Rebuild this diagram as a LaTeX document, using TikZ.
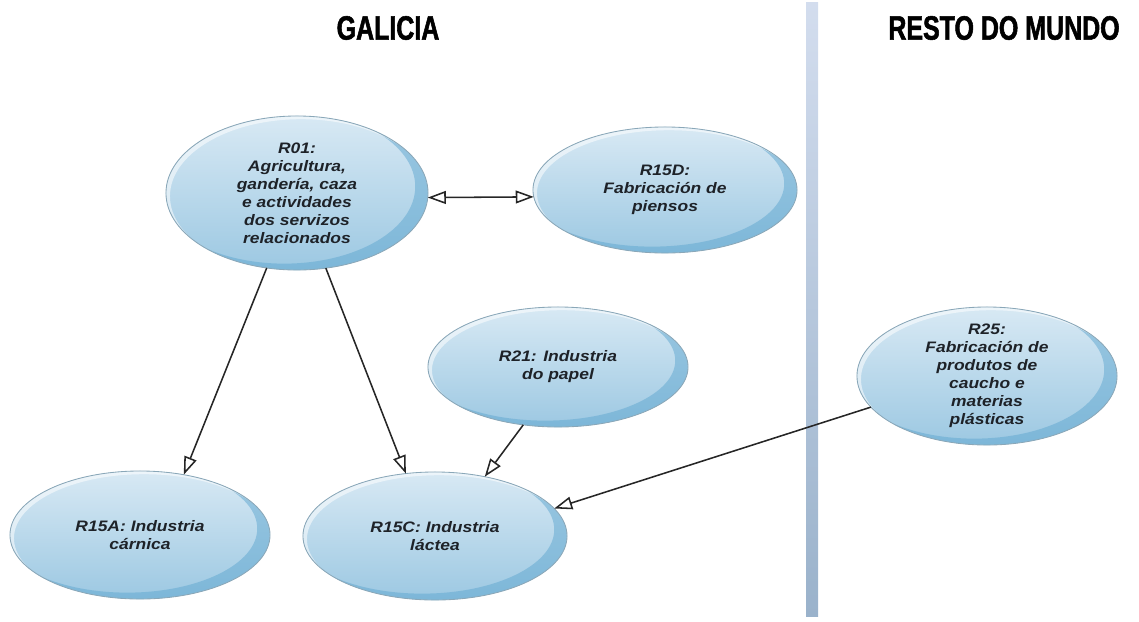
\documentclass[tikz,border=0pt]{standalone}
\usepackage{fontspec}
\setmainfont{Liberation Sans}
\newfontfamily\titulofont[FakeStretch=0.74, FakeBold=1.6]{Liberation Sans}
\newfontfamily\burbfont[FakeStretch=1.15]{Liberation Sans}
\usetikzlibrary{arrows.meta, shapes.geometric}

\definecolor{burbtop}{HTML}{D8E9F4}
\definecolor{burbbot}{HTML}{9CC8E2}
\definecolor{burbborde}{HTML}{8AA7B8}
\definecolor{burbsombra}{HTML}{5FA7D0}
\definecolor{textoescuro}{HTML}{1E2228}
\definecolor{barratop}{HTML}{D3DDEE}
\definecolor{barrabot}{HTML}{9AB2CB}

\tikzset{
  burbnodo/.style={ellipse, top color=burbtop, bottom color=burbbot, inner sep=0pt, outer sep=0pt},
  rotulo/.style={align=center, text=textoescuro, inner sep=0pt,
    font=\burbfont\bfseries\itshape\fontsize{10.8}{12.8}\selectfont},
  titulo/.style={font=\titulofont\bfseries\fontsize{24}{26}\selectfont},
  frecha/.style={draw=black!85, line width=1.1pt},
}

% burbulla: nome, centro, ancho, alto, texto
\newcommand{\burbulla}[5]{%
  \node[burbnodo, minimum width=#3, minimum height=#4] (#1) at (#2) {};
  \begin{scope}
    \clip (#1.center) ellipse [x radius=#3/2, y radius=#4/2];
    % sombra da dereita
    \fill[burbsombra, opacity=0.5, even odd rule]
      (#1.center) ellipse [x radius=#3/2, y radius=#4/2]
      ([xshift=-0.32cm, yshift=0.16cm]#1.center) ellipse [x radius=#3/2, y radius=#4/2];
    % brillo arriba á esquerda
    \fill[white, opacity=0.55, even odd rule]
      (#1.center) ellipse [x radius=#3/2, y radius=#4/2]
      ([xshift=0.1cm, yshift=-0.08cm]#1.center) ellipse [x radius=#3/2, y radius=#4/2];
  \end{scope}
  \draw[burbborde, line width=0.6pt] (#1.center) ellipse [x radius=#3/2, y radius=#4/2];
  \node[rotulo] (#1-txt) at (#1.center) {#5};
}

\begin{document}
\begin{tikzpicture}[x=0.025cm, y=-0.025cm,
    >={Triangle[length=0.45cm, width=0.32cm, fill=white]}]
  \useasboundingbox (0,0) rectangle (1139,621);

  % títulos
  \node[titulo] (galicia) at (388,28) {GALICIA};
  \node[titulo] (resto) at (1004,28) {RESTO DO MUNDO};

  % barra de separación
  \shade[top color=barratop, bottom color=barrabot] (806,2) rectangle (818,616);

  % ramas
  \burbulla{r01}{297,193}{6.55cm}{3.85cm}{R01:\\Agricultura,\\gandería, caza\\e actividades\\dos servizos\\relacionados}
  \burbulla{r15d}{665,190}{6.6cm}{3.15cm}{R15D:\\Fabricación de\\piensos}
  \burbulla{r21}{558,367}{6.5cm}{3.0cm}{R21: Industria\\do papel}
  \burbulla{r25}{987,376}{6.5cm}{3.45cm}{R25:\\Fabricación de\\produtos de\\caucho e\\materias\\plásticas}
  \burbulla{r15a}{140,535}{6.5cm}{3.2cm}{R15A: Industria\\cárnica}
  \burbulla{r15c}{435,536}{6.6cm}{3.2cm}{R15C: Industria\\láctea}

  % relacións
  \draw[frecha, <->] (r01.-2) -- (r15d.183);
  \draw[frecha, ->] (r01.248) -- (r15a.54);
  \draw[frecha, ->] (r01.291) -- (r15c.115);
  \draw[frecha, ->] (r21.239) -- (r15c.50);
  \draw[frecha, ->] (r25.195) -- (r15c.13);
\end{tikzpicture}
\end{document}
